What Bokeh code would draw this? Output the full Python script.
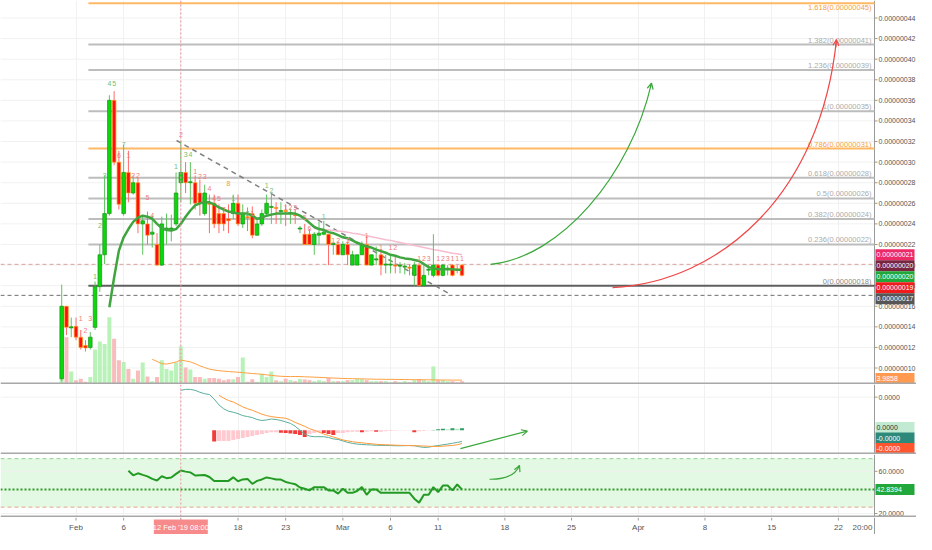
import math
from bokeh.plotting import figure
from bokeh.layouts import column
from bokeh.models import (Range1d, FixedTicker, Span, ColumnDataSource, Grid, Arrow,
                          OpenHead, BoxAnnotation)
from bokeh.embed import file_html
from bokeh.resources import INLINE
from bokeh.core.properties import value

NAN = float("nan")
P = 1e-8      # price unit
M = 1e-10     # MACD unit

# ---------------- data (12h candles, days counted from 1 Feb) ----------------
candle_start_day = -1.5
candle_step = 0.5

opens = [8.96, 16.0, 13.9, 14.05, 13.0, 12.2, 12.0, 13.95, 17.9, 21.0,
         25.0, 36.0, 30.0, 25.0, 29.0, 27.0, 28.0, 24.0, 24.0, 23.0,
         22.0, 20.0, 23.4, 23.5, 24.0, 28.0, 29.0, 28.0, 28.0, 27.0,
         25.0, 26.0, 26.0, 25.0, 25.0, 24.5, 25.0, 26.0, 24.0, 24.7,
         25.0, 22.9, 24.0, 25.0, 25.6, 25.6, 25.2, 25.3, 25.0, 24.9,
         23.5, 23.0, 23.0, 22.0, 22.9, 23.0, 23.0, 22.0, 22.0, 21.0,
         22.0, 20.0, 20.0, 21.0, 22.0, 20.0, 20.5, 21.0, 20.0, 20.0,
         20.0, 19.9, 19.8, 19.8, 19.0, 20.0, 18.0, 19.5, 19.0, 20.0,
         19.0, 19.6, 20.0, 19.6, 20.0]
highs = [18.1, 16.0, 14.9, 14.9, 13.7, 12.7, 13.5, 18.4, 22.0, 28.7,
         36.5, 36.9, 31.1, 31.7, 31.1, 28.7, 28.5, 24.8, 25.2, 24.8,
         23.1, 24.7, 25.0, 24.9, 29.0, 32.1, 30.0, 30.0, 28.7, 28.3,
         27.8, 26.85, 26.85, 25.9, 25.4, 25.9, 26.85, 26.85, 25.9, 25.6,
         25.7, 24.5, 25.4, 26.85, 26.85, 26.1, 26.1, 25.9, 25.5, 25.4,
         23.8, 24.0, 23.5, 23.2, 24.2, 24.3, 23.0, 22.1, 22.3, 22.3,
         22.3, 21.4, 21.0, 22.3, 22.8, 21.0, 21.8, 21.5, 21.0, 21.0,
         20.8, 20.3, 20.2, 20.1, 20.3, 20.2, 20.0, 20.0, 23.0, 20.1,
         20.1, 20.0, 20.1, 20.0, 20.1]
lows = [8.7, 13.2, 13.0, 12.7, 11.8, 11.6, 11.8, 13.7, 17.4, 20.1,
        24.8, 29.7, 25.4, 24.8, 26.1, 26.85, 23.1, 21.0, 22.0, 21.7,
        19.9, 19.9, 22.0, 22.3, 23.8, 26.1, 27.0, 25.9, 25.4, 24.8,
        24.8, 23.1, 23.6, 23.1, 23.3, 23.1, 24.5, 23.8, 23.6, 23.3,
        22.6, 22.9, 23.8, 24.8, 24.0, 24.0, 24.0, 23.8, 24.0, 24.0,
        23.1, 22.0, 22.0, 21.0, 22.0, 22.9, 20.0, 21.0, 21.0, 21.0,
        20.0, 20.0, 20.0, 21.0, 20.0, 20.0, 20.0, 19.0, 19.2, 19.2,
        19.2, 19.2, 19.1, 19.0, 18.0, 18.0, 18.0, 19.0, 18.8, 18.9,
        18.9, 19.0, 18.9, 19.2, 18.9]
closes = [16.0, 13.95, 14.0, 13.0, 12.0, 11.95, 13.0, 17.9, 21.0, 25.0,
          36.0, 30.0, 25.9, 29.0, 27.0, 28.0, 24.0, 24.3, 22.9, 23.2,
          20.0, 24.0, 23.6, 23.6, 27.0, 29.0, 28.0, 28.1, 26.0, 26.0,
          27.0, 25.9, 24.0, 24.0, 24.0, 24.3, 26.0, 24.0, 25.0, 24.6,
          22.9, 24.0, 25.0, 26.0, 25.7, 25.5, 25.3, 25.2, 25.1, 24.8,
          23.6, 22.0, 22.0, 23.0, 23.1, 23.2, 22.0, 22.1, 21.0, 22.0,
          21.0, 21.0, 21.0, 22.0, 20.0, 21.0, 20.6, 20.0, 20.1, 20.1,
          19.9, 20.0, 19.9, 19.7, 20.0, 18.0, 19.0, 19.6, 20.0, 19.0,
          20.0, 19.7, 19.0, 19.5, 19.0]
volumes = [50, 43, 11.8, 3.8, 5.3, 2.4, 6.8, 31.8, 39.2, 37,
           61.3, 41.8, 22, 20.6, 14.1, 5.3, 12.7, 20, 7.4, 3,
           6.8, 22, 14.1, 12.7, 20, 34.8, 15.6, 13.6, 6.8, 6.8,
           5.3, 5.9, 5.9, 5.3, 3.8, 4.7, 4.7, 6.8, 24.5, 2.4,
           4.7, 2.4, 9.7, 6.8, 11.8, 3.8, 3, 5.3, 4, 3,
           5, 4.7, 4, 3, 4, 3, 5.9, 3, 3, 3,
           4, 4, 5, 4.7, 4, 3, 3, 3, 3, 2,
           3, 2, 3, 2, 4, 5, 4, 3, 16.5, 4,
           4, 3, 3, 2, 3]
ema_fast = [NAN] * 10 + [
    15.9, 18.8, 21.4, 22.7, 23.5, 24.2, 24.6, 24.8, 24.7, 24.5,
    24.0, 23.6, 23.4, 23.35, 23.5, 24.0, 24.7, 25.3, 25.8, 26.0,
    26.1, 26.1, 25.9, 25.6, 25.4, 25.2, 25.1, 25.0, 25.0, 25.0,
    24.8, 24.5, 24.6, 24.8, 24.9, 25.0, 25.0, 25.0, 25.0, 25.0,
    24.8, 24.5, 24.1, 23.7, 23.5, 23.4, 23.2, 23.1, 22.9, 22.7,
    22.6, 22.4, 22.15, 22.0, 21.8, 21.7, 21.5, 21.35, 21.2, 21.0,
    20.9, 20.75, 20.65, 20.6, 20.5, 20.4, 20.1, 19.8, 19.7, 19.6,
    19.6, 19.6, 19.6, 19.55, 19.55]
ma_slow = [NAN] * 53 + [
    23.55, 23.5, 23.45, 23.4, 23.35, 23.3, 23.25, 23.2, 23.1, 23.05,
    22.95, 22.85, 22.75, 22.65, 22.55, 22.45, 22.4, 22.3, 22.2, 22.1,
    22.0, 21.9, 21.8, 21.7, 21.6, 21.5, 21.45, 21.35, 21.25, 21.15,
    21.1, 21.0]
vol_ma = [NAN] * 19 + [
    23, 21, 19, 18.6, 19.5, 20.5, 22.4, 21.5, 20.6, 19,
    17, 15.5, 14, 13.2, 12.6, 12.2, 11.8, 11.5, 11.2, 10.8,
    10.4, 10.0, 9.7, 9.3, 8.8, 8.3, 7.8, 7.5, 7.3, 7.2,
    7.3, 7.2, 7.0, 6.9, 6.7, 6.5, 6.3, 6.1, 5.9, 5.7,
    5.5, 5.4, 5.3, 5.2, 5.1, 5.0, 4.9, 4.8, 4.8, 4.7,
    4.7, 4.6, 4.6, 4.5, 4.5, 4.4, 4.4, 4.3, 4.3, 4.2,
    4.2, 4.1, 4.1, 4.0, 4.0, 3.9858]
macd_line = [NAN] * 25 + [
    41, 42, 42, 41, 39, 37.5, 36.7, 32, 26, 22,
    19.5, 18.5, 17, 15, 14, 13, 11, 10, 10.5, 11.5,
    11, 10, 8.5, 7, 4, 0, -4, -6, -6.7, -6.7,
    -6.7, -7.5, -9, -9.5, -11, -12.5, -13.5, -14.3, -14.7, -15,
    -15.2, -15.5, -15.6, -15.7, -15.8, -16, -16, -15.9, -15.8, -15.9,
    -17, -17.7, -17.5, -16.5, -15.8, -15, -14.3, -13.5, -12.5, -11.7]
macd_signal = [NAN] * 33 + [
    36, 33, 30.5, 29, 26.5, 24, 22, 20.5, 18.5, 16.5,
    15, 14, 13.3, 12.8, 12.3, 10.5, 8, 6, 4, 1.5,
    0, -2, -4, -5.5, -7, -8.5, -10, -11, -11.8, -12.5,
    -13, -13.5, -14, -14.5, -14.8, -15, -15.2, -15.4, -15.6, -15.7,
    -15.8, -16, -16.1, -16.3, -16.5, -16.7, -16.7, -16.5, -16, -15.7,
    -15, -13.7]
macd_hist = [NAN] * 32 + [
    -11.7, -11, -11, -11, -10, -9, -8, -7, -6, -5,
    -4, -3, -2, -2, -2.5, -3, -3.5, -4, -5, -7,
    -4, -3, -2, -3, -4, -5, -3, -3, -2, -1.5,
    -1.5, -2, -1.5, -1, -1.5, -1.5, -1, -0.7, -0.5, -0.4,
    -0.3, -0.3, -2, -1, -0.7, -0.3, 0.3, 1, 1.5, 1,
    2, 1.5, 2]
rsi = [NAN] * 14 + [
    60.5, 56.2, 58.1, 56.6, 55.2, 52.8, 51.3, 55.3, 53.5, 54.1,
    57.6, 60.7, 59.7, 59.0, 56.0, 56.3, 56.5, 54.6, 50.9, 50.9,
    50.9, 50.9, 54.3, 50.6, 52.3, 52.8, 48.1, 50.9, 52.3, 54.2,
    53.3, 52.2, 52.2, 49.9, 48.8, 47.8, 44.6, 43.4, 41.9, 45.0,
    45.0, 45.0, 41.9, 41.9, 38.8, 43.4, 39.6, 39.6, 41.3, 45.0,
    37.8, 42.8, 42.8, 39.6, 39.6, 39.6, 39.6, 39.6, 39.6, 39.6,
    34.0, 30.3, 37.8, 37.8, 45.0, 40.3, 46.5, 46.5, 41.9, 47.5,
    42.8394]

n = len(opens)
for arr in (highs, lows, closes, volumes, ema_fast, ma_slow, vol_ma, macd_line, macd_signal, macd_hist, rsi):
    assert len(arr) == n, len(arr)

# sequential-count labels: (candle index, price, text, kind)
td_labels = [
    (4, 14.8, "1", "r"), (5, 13.6, "2", "r"), (6, 14.8, "3", "r"),
    (7, 18.9, "1", "g"), (8, 23.8, "2", "g"), (9, 28.7, "3", "g"),
    (10, 37.6, "4", "g"), (11, 37.6, "5", "g"), (12, 30.6, "6", "r"),
    (13, 31.7, "7", "g"), (14, 30.6, "1", "r"), (15, 28.7, "2", "r"),
    (16, 28.7, "2", "r"), (18, 26.6, "5", "r"), (19, 24.8, "4", "r"),
    (24, 29.6, "1", "g"), (25, 32.7, "2", "r"), (26, 30.7, "3", "g"),
    (27, 30.7, "4", "g"), (28, 29.1, "1", "r"), (29, 28.6, "2", "r"),
    (30, 28.6, "3", "r"), (31, 27.4, "4", "r"), (32, 26.5, "4", "r"),
    (33, 26.5, "5", "r"), (34, 25.4, "7", "r"), (35, 27.9, "8", "o"),
    (36, 26.5, "1", "g"), (39, 25.0, "2", "g"), (40, 25.0, "1", "r"),
    (43, 27.7, "1", "g"), (44, 27.2, "2", "g"), (47, 25.6, "1", "r"),
    (48, 25.6, "2", "r"), (49, 25.6, "3", "r"), (51, 24.6, "5", "r"),
    (52, 23.6, "6", "r"), (55, 24.7, "1", "g"), (57, 22.4, "1", "r"),
    (58, 22.4, "2", "r"), (60, 22.4, "3", "r"), (64, 22.9, "1", "r"),
    (67, 21.7, "1", "r"), (69, 21.7, "1", "r"), (70, 21.7, "2", "r"),
    (75, 20.6, "1", "r"), (76, 20.6, "2", "r"), (77, 20.6, "3", "r"),
    (79, 20.6, "1", "r"), (80, 20.6, "2", "r"), (81, 20.6, "3", "r"),
    (82, 20.6, "1", "r"), (83, 20.6, "1", "r"), (84, 20.6, "1", "r"),
]

# fibonacci retracement drawing
fib_levels = [0, 0.236, 0.382, 0.5, 0.618, 0.786, 1, 1.236, 1.382, 1.618]
fib_low, fib_high, fib_start_day = 18.0, 34.95, 1.3
price_lines = [20.07, 17.06]   # horizontal dashed lines
crosshair_day = 11.0
crosshair_text = "12 Feb '19 08:00"

# user drawings (day, value)
trend_line = [(10.55, 32.1), (39.3, 17.15)]
green_curve = [(43.5, 20.07), (50.84, 20.73), (58.19, 28.73), (60.39, 37.68)]
red_curve = [(56.3, 17.81), (67.63, 18.38), (78.13, 26.85), (79.8, 41.9)]
macd_arrow = [(40.34, -19.0), (47.37, -1.0)]
rsi_curve = [(43.39, 52.5), (45.9, 52.0), (46.54, 65.6)]
rsi_band = (26, 72)

x_tick_days = [0, 5, 11, 17, 22, 28, 33, 38, 45, 52, 59, 66, 73, 80]
x_tick_labels = ["Feb", "6", "12", "18", "23", "Mar", "6", "11", "18", "25", "Apr", "8", "15", "22"]
x_last_label = "20:00"

main_ticks = list(range(10, 46, 2))
macd_ticks = [34]
rsi_ticks = [20, 60]

# ---------------- layout ----------------
W = 916
PX_PER_DAY = 9.53
X_START = -75.5 / PX_PER_DAY
X_END = X_START + W / PX_PER_DAY
X_AX = X_START + 874 / PX_PER_DAY       # right price-scale line
PXD = 1.0 / PX_PER_DAY                  # one screen pixel in days
FONT = "Liberation Sans"
AXIS_COL = "#9a9a9a"
GRID_COL = "#f1f1f1"
SEP_COL = "#a8a8a8"
TAG_H = 11

MAIN_H, MACD_H, RSI_H, TIME_H = 384, 70, 63, 17
main_lo, main_hi = 8.4, 45.7
macd_lo, macd_hi = -25, 47
rsi_lo, rsi_hi = 16.2, 75.95

xr = Range1d(X_START, X_END)
days = [candle_start_day + candle_step * i for i in range(n)]


def pane(height, lo, hi):
    p = figure(width=W, height=height, x_range=xr, y_range=Range1d(lo, hi),
               x_axis_location=None, y_axis_location=None, toolbar_location=None,
               output_backend="svg", min_border=0, outline_line_color=None)
    for g in p.grid:
        g.visible = False
    p.add_layout(Grid(dimension=0, ticker=FixedTicker(ticks=x_tick_days), grid_line_color=GRID_COL))
    return p


def price_scale(p, ticks, labels, lo, hi):
    k = len(ticks)
    p.segment(x0=[X_START] * k, x1=[X_AX] * k, y0=ticks, y1=ticks, line_color=GRID_COL)
    p.segment(x0=[X_AX], x1=[X_AX], y0=[lo], y1=[hi], line_color=AXIS_COL, line_width=1)
    p.segment(x0=[X_AX] * k, x1=[X_AX + 3 * PXD] * k, y0=ticks, y1=ticks, line_color=AXIS_COL)
    p.text(x=[X_AX + 4 * PXD] * k, y=ticks, text=labels, text_font=value(FONT),
           text_font_size="7px", text_color="#555555", text_align="left", text_baseline="middle")


def separator(p, lo, hi, height):
    y = lo + 1.0 * (hi - lo) / height
    p.segment(x0=[X_START], x1=[X_END], y0=[y], y1=[y], line_color=SEP_COL, line_width=2)


def crosshair(p):
    p.add_layout(Span(location=crosshair_day, dimension="height", line_color="#f28ca0",
                      line_dash="2 2", line_width=1))


def hline(p, y, color, dash, width=1):
    p.segment(x0=[X_START], x1=[X_AX], y0=[y], y1=[y], line_color=color, line_dash=dash,
              line_width=width)


def tags(p, positions, texts, bgs, fgs):
    k = len(positions)
    p.rect(x=[X_AX + 20.5 * PXD] * k, y=positions, width=39, height=TAG_H, width_units="screen",
           height_units="screen", fill_color=bgs, line_color=None)
    p.text(x=[X_AX + 2 * PXD] * k, y=positions, text=texts, text_color=fgs,
           text_font=value(FONT), text_font_size="7px", text_align="left",
           text_baseline="middle")


def spread(vals, lo, hi, height, gap_px=10.5):
    """Keep the price tags from overlapping and inside their pane."""
    upp = (hi - lo) / height
    gap, half = gap_px * upp, (TAG_H / 2 + 0.5) * upp
    order = sorted(range(len(vals)), key=lambda k: -vals[k])
    pos = {}
    last = None
    for k in order:
        v = min(vals[k], hi - half) if last is None else min(vals[k], last - gap)
        pos[k] = v
        last = v
    floor = lo + half
    for k in reversed(order):
        if pos[k] < floor:
            pos[k] = floor
        floor = pos[k] + gap
    return [pos[k] for k in range(len(vals))]


def add_bezier(p, pts, color, scale):
    (x0, y0), (cx0, cy0), (cx1, cy1), (x1, y1) = pts
    p.bezier(x0=[x0], y0=[y0 * scale], x1=[x1], y1=[y1 * scale], cx0=[cx0], cy0=[cy0 * scale],
             cx1=[cx1], cy1=[cy1 * scale], line_color=color, line_width=1.2)
    p.add_layout(Arrow(end=OpenHead(size=6, line_color=color, line_width=1.2),
                       x_start=x1 - 0.05 * (x1 - cx1), y_start=(y1 - 0.05 * (y1 - cy1)) * scale,
                       x_end=x1, y_end=y1 * scale, line_color=color, line_width=1.2))


# ---------------- main pane ----------------
main = pane(MAIN_H, main_lo * P, main_hi * P)
price_scale(main, [t * P for t in main_ticks], [f"{t * P:.8f}" for t in main_ticks],
            main_lo * P, main_hi * P)
main.extra_y_ranges = {"vol": Range1d(0, 350)}

up = [c >= o for o, c in zip(opens, closes)]
src = ColumnDataSource(dict(
    x=days,
    l=[v * P for v in lows], h=[v * P for v in highs],
    top=[max(o, c) * P for o, c in zip(opens, closes)],
    bot=[min(o, c) * P for o, c in zip(opens, closes)],
    fill=["#0ad80a" if u else "#ff1010" for u in up],
    edge=["#1c8f1c" if u else "#ffa31a" for u in up],
    wick=["#5cc45c" if u else "#ff6a6a" for u in up],
    vol=volumes,
    volc=["#b8f2b8" if u else "#f9bcbc" for u in up],
    ema=[v * P for v in ema_fast], slow=[v * P for v in ma_slow], vma=vol_ma,
))

main.vbar(x="x", width=0.42, top="vol", bottom=0, fill_color="volc", line_color=None,
          y_range_name="vol", source=src)
main.line("x", "vma", line_color="#ffa040", line_width=1, y_range_name="vol", source=src)

fib_prices = [fib_low + l * (fib_high - fib_low) for l in fib_levels]
fib_cols = ["#5f5f5f" if l == 0 else ("#ffb864" if l in (0.786, 1.618) else "#bdbdbd")
            for l in fib_levels]
fib_txt_cols = ["#8a8a8a" if l == 0 else ("#f5a040" if l in (0.786, 1.618) else "#ababab")
                for l in fib_levels]
fib_texts = [f"{l:g}({v * P:.8f})" for l, v in zip(fib_levels, fib_prices)]
k = len(fib_levels)
main.segment(x0=[fib_start_day] * k, x1=[X_AX] * k,
             y0=[v * P for v in fib_prices], y1=[v * P for v in fib_prices],
             line_color=fib_cols, line_width=2)
fib_base = ["top" if v > main_hi - 1.2 else "bottom" for v in fib_prices]
main.text(x=[X_AX - 3 * PXD] * k, y=[v * P for v in fib_prices], text=fib_texts,
          text_color=fib_txt_cols, text_font=value(FONT), text_font_size="7.5px",
          text_align="right", text_baseline=fib_base)

for v, col in zip(price_lines, ["#d8a39e", "#707070"]):
    hline(main, v * P, col, "4 3")

main.line([t[0] for t in trend_line], [t[1] * P for t in trend_line],
          line_color="#808080", line_dash="5 4", line_width=1.5)

main.line("x", "slow", line_color="#f6bcd0", line_width=1.5, source=src)
main.segment(x0="x", x1="x", y0="l", y1="h", line_color="wick", line_width=1, source=src)
main.vbar(x="x", width=0.38, top="top", bottom="bot", fill_color="fill", line_color="edge",
          line_width=0.7, source=src)
main.line("x", "ema", line_color="#3fa53f", line_width=2.5, source=src)

td_colors = {"r": "#f07c7c", "g": "#72c072", "o": "#f0a030"}
main.text(x=[days[i] for i, _, _, _ in td_labels], y=[v * P for _, v, _, _ in td_labels],
          text=[t for _, _, t, _ in td_labels],
          text_color=[td_colors[c] for _, _, _, c in td_labels],
          text_font=value(FONT), text_font_size="7px", text_align="center",
          text_baseline="middle")

add_bezier(main, green_curve, "#3aa83a", P)
add_bezier(main, red_curve, "#f04848", P)

main_tag_vals = [ma_slow[-1], price_lines[0], ema_fast[-1], closes[-1], price_lines[1]]
main_tag_cols = ["#ee2a66", "#7a2440", "#22a83a", "#f01c1c", "#565656"]
tags(main, [v * P for v in spread(main_tag_vals, main_lo, main_hi, MAIN_H, 11)],
     [f"{v * P:.8f}" for v in main_tag_vals], main_tag_cols, ["white"] * 5)
vol_tag_y = main_lo + vol_ma[-1] * (main_hi - main_lo) / 350
vol_tag_y = spread([vol_tag_y], main_lo, main_hi, MAIN_H)[0]
tags(main, [vol_tag_y * P], [f"{vol_ma[-1]:.4f}"], ["#ff9a50"], ["white"])
separator(main, main_lo * P, main_hi * P, MAIN_H)
crosshair(main)

# ---------------- MACD pane ----------------
macd = pane(MACD_H, macd_lo * M, macd_hi * M)
price_scale(macd, [t * M for t in macd_ticks], [f"{t * M:.4f}" for t in macd_ticks],
            macd_lo * M, macd_hi * M)
hist_cols = []
prev = None
for h in macd_hist:
    if math.isnan(h):
        hist_cols.append("#ffffff")
        continue
    if h >= 0:
        hist_cols.append("#2f9e62" if (prev is None or h >= prev) else "#b7e4c7")
    else:
        hist_cols.append("#f23b3b" if (prev is None or h < prev) else "#ffc9cf")
    prev = h
msrc = ColumnDataSource(dict(x=days, h=[v * M for v in macd_hist], hc=hist_cols,
                             m=[v * M for v in macd_line], s=[v * M for v in macd_signal]))
macd.vbar(x="x", width=0.42, top="h", bottom=0, fill_color="hc", line_color=None, source=msrc)
macd.line("x", "m", line_color="#5aae9c", line_width=1, source=msrc)
macd.line("x", "s", line_color="#ff9a3c", line_width=1, source=msrc)
(ax0, ay0), (ax1, ay1) = macd_arrow
macd.add_layout(Arrow(end=OpenHead(size=6, line_color="#3aa83a", line_width=1.2),
                      x_start=ax0, y_start=ay0 * M, x_end=ax1, y_end=ay1 * M,
                      line_color="#3aa83a", line_width=1.2))
mt_vals = [macd_hist[-1], macd_line[-1], macd_signal[-1]]
tags(macd, [v * M for v in spread(mt_vals, macd_lo, macd_hi, MACD_H)],
     [f"{v * M:.4f}" for v in mt_vals],
     ["#c2ead2", "#2d8a7a", "#ff5630"], ["#333333", "white", "white"])
separator(macd, macd_lo * M, macd_hi * M, MACD_H)
crosshair(macd)

# ---------------- RSI pane ----------------
rp = pane(RSI_H, rsi_lo, rsi_hi)
rp.add_layout(BoxAnnotation(bottom=rsi_band[0], top=rsi_band[1], left=X_START, right=X_AX,
                            fill_color="#e4f9e4", fill_alpha=1, line_color=None,
                            level="underlay"))
price_scale(rp, rsi_ticks, [f"{t:.4f}" for t in rsi_ticks], rsi_lo, rsi_hi)
hline(rp, rsi_band[1], "#8fd08f", "4 3")
hline(rp, rsi_band[0], "#e3a88e", "4 3")
hline(rp, rsi[-1], "#2a9d2a", "2 2", 2)
rp.line(days, rsi, line_color="#239a23", line_width=2)
(q0x, q0y), (qcx, qcy), (q1x, q1y) = rsi_curve
rp.quadratic(x0=[q0x], y0=[q0y], x1=[q1x], y1=[q1y], cx=[qcx], cy=[qcy],
             line_color="#3aa83a", line_width=1.2)
rp.add_layout(Arrow(end=OpenHead(size=6, line_color="#3aa83a", line_width=1.2),
                    x_start=q1x - 0.05 * (q1x - qcx), y_start=q1y - 0.05 * (q1y - qcy),
                    x_end=q1x, y_end=q1y, line_color="#3aa83a", line_width=1.2))
tags(rp, spread([rsi[-1]], rsi_lo, rsi_hi, RSI_H), [f"{rsi[-1]:.4f}"], ["#22a83a"], ["white"])
separator(rp, rsi_lo, rsi_hi, RSI_H)
crosshair(rp)

# ---------------- time scale ----------------
tp = figure(width=W, height=TIME_H, x_range=xr, y_range=Range1d(0, TIME_H),
            x_axis_location=None, y_axis_location=None, toolbar_location=None,
            output_backend="svg", min_border=0, outline_line_color=None)
for g in tp.grid:
    g.visible = False
kt = len(x_tick_days)
tp.segment(x0=x_tick_days, x1=x_tick_days, y0=[TIME_H] * kt, y1=[TIME_H - 3] * kt,
           line_color=AXIS_COL)
tp.segment(x0=[X_AX], x1=[X_AX], y0=[0], y1=[TIME_H], line_color=AXIS_COL)
tp.text(x=x_tick_days, y=[TIME_H / 2 - 1] * kt, text=x_tick_labels, text_font=value(FONT),
        text_font_size="8px", text_color="#555555", text_align="center", text_baseline="middle")
tp.text(x=[X_AX - 2 * PXD], y=[TIME_H / 2 - 1], text=[x_last_label], text_font=value(FONT),
        text_font_size="8px", text_color="#555555", text_align="right", text_baseline="middle")
tp.rect(x=[crosshair_day], y=[TIME_H / 2 - 1], width=54, height=15, width_units="screen",
        height_units="screen", fill_color="#f78b8b", line_color=None)
tp.text(x=[crosshair_day], y=[TIME_H / 2 - 1], text=[crosshair_text], text_font=value(FONT),
        text_font_size="7.5px", text_color="white", text_align="center", text_baseline="middle")

layout = column(main, macd, rp, tp, spacing=0)
open("out.html", "w").write(file_html(layout, INLINE))
